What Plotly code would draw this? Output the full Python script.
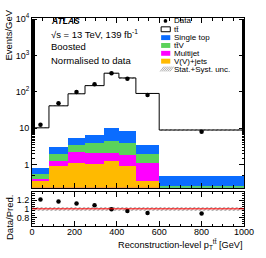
import plotly.graph_objects as go
import numpy as np

# ---- data ----
bin_edges = [0, 80, 170, 250, 340, 410, 490, 600, 1000]
ttbar = [9.4, 38.0, 82.6, 141.0, 315.0, 232.0, 86.5, 8.4]
single_top = [0.24, 1.16, 2.0, 2.6, 5.6, 4.3, 1.6, 0.23]
ttV = [0.16, 0.64, 1.26, 1.97, 2.3, 2.0, 0.82, 0.05]
multijet = [0.04, 0.38, 1.06, 1.03, 0.84, 0.92, 0.73, 0.08]
vjets = [0.35, 0.88, 1.08, 1.0, 1.26, 0.88, 0.35, 0.12]
data = [12.4, 48.0, 99.0, 160.0, 322.0, 228.0, 81.0, 7.9]
rel_unc = [0.04, 0.04, 0.04, 0.04, 0.04, 0.04, 0.04, 0.04]

y_tickvals = [1, 10, 100, 1000, 10000]
y_ticktext = ["1", "10", "10<sup>2</sup>", "10<sup>3</sup>", "10<sup>4</sup>"]
r_tickvals = [0.8, 1.0, 1.2]
r_ticktext = ["0.8", "1", "1.2"]

# ---- derived ----
e = np.array(bin_edges, float)
centers = (e[:-1] + e[1:]) / 2
widths = e[1:] - e[:-1]
c_v = np.array(vjets)
c_m = c_v + np.array(multijet)
c_g = c_m + np.array(ttV)
c_b = c_g + np.array(single_top)
total = c_b + np.array(ttbar)
unc = np.array(rel_unc)
ratio = np.array(data) / total

FONT = "Liberation Sans, Arial, Helvetica, sans-serif"
W, H = 266, 258
L, R, T, B = 32, 14, 14, 32
PW, PH = W - L - R, H - T - B


def px(xp):
    return (xp - L) / PW


def py(yp):
    return (H - B - yp) / PH


BLUE, GREEN, MAG, ORANGE = "#0a6cff", "#5ad25a", "#ff00ff", "#ffba00"

fig = go.Figure()
for cum, col, name in [(c_b, BLUE, "Single top"), (c_g, GREEN, "ttV"),
                       (c_m, MAG, "Multijet"), (c_v, ORANGE, "V(V)+jets")]:
    fig.add_trace(go.Bar(x=centers, y=cum, width=widths, marker=dict(color=col, line=dict(width=0)),
                         name=name, showlegend=False, xaxis="x", yaxis="y"))

# uncertainty band main
fig.add_trace(go.Bar(x=centers, y=total * 2 * unc, base=total * (1 - unc), width=widths,
                     marker=dict(color="rgba(0,0,0,0)", line=dict(width=0),
                                 pattern=dict(shape="/", fgcolor="#444", bgcolor="rgba(0,0,0,0)", size=3, solidity=0.4)),
                     showlegend=False, xaxis="x", yaxis="y"))
# total step line
fig.add_trace(go.Scatter(x=list(e), y=list(total) + [total[-1]], mode="lines",
                         line=dict(color="black", width=1, shape="hv"), showlegend=False,
                         xaxis="x", yaxis="y"))
# data
fig.add_trace(go.Scatter(x=centers, y=data, mode="markers", marker=dict(color="black", size=4.5),
                         showlegend=False, xaxis="x", yaxis="y"))

# ratio band
fig.add_trace(go.Bar(x=centers, y=2 * unc, base=1 - unc, width=widths,
                     marker=dict(color="rgba(0,0,0,0)", line=dict(width=0),
                                 pattern=dict(shape="/", fgcolor="#444", bgcolor="rgba(0,0,0,0)", size=3, solidity=0.4)),
                     showlegend=False, xaxis="x2", yaxis="y2"))
fig.add_trace(go.Scatter(x=centers, y=ratio, mode="markers", marker=dict(color="black", size=4.5),
                         showlegend=False, xaxis="x2", yaxis="y2"))

main_bottom = py(187)
ratio_top = py(191)

axcommon = dict(showline=True, linecolor="black", linewidth=1, mirror="ticks", ticks="inside",
                tickcolor="black", showgrid=False, zeroline=False,
                tickfont=dict(family=FONT, size=9, color="black"))

fig.update_layout(
    width=W, height=H, margin=dict(l=L, r=R, t=T, b=B),
    plot_bgcolor="white", paper_bgcolor="white", barmode="overlay", bargap=0,
    showlegend=False,
    xaxis=dict(domain=[0, 1], anchor="y", range=[0, 1000], dtick=200, ticklen=5,
               showticklabels=False, minor=dict(dtick=50, ticklen=2.5, ticks="inside", tickcolor="black"),
               **axcommon),
    yaxis=dict(domain=[main_bottom, 1], anchor="x", type="log", range=[-0.64, 4.03],
               tickvals=y_tickvals, ticktext=y_ticktext, ticklen=5,
               minor=dict(ticks="inside", ticklen=2.5, tickcolor="black"), **axcommon),
    xaxis2=dict(domain=[0, 1], anchor="y2", range=[0, 1000], dtick=200, ticklen=5, matches="x",
                ticklabelstandoff=-3,
                minor=dict(dtick=50, ticklen=2.5, ticks="inside", tickcolor="black"), **axcommon),
    yaxis2=dict(domain=[0, ratio_top], anchor="x2", range=[0.6, 1.4],
                tickvals=r_tickvals, ticktext=r_ticktext, ticklen=5,
                minor=dict(dtick=0.05, ticklen=2.5, ticks="inside", tickcolor="black"), **axcommon),
)

# reference line at 1
fig.add_shape(type="line", xref="x2 domain", yref="y2", x0=0, x1=1, y0=1, y1=1,
              line=dict(color="red", width=1))

ann = []
def text(x, y, s, size=9, xanchor="left", yanchor="middle", angle=0):
    ann.append(dict(x=x, y=y, xref="paper", yref="paper", text=s, showarrow=False,
                    xanchor=xanchor, yanchor=yanchor, textangle=angle,
                    font=dict(family=FONT, size=size, color="black")))

text(px(49.5), py(17), "<b><i>ATLAS</i></b>", size=8.5)
text(px(49.5), py(30), "√s = 13 TeV, 139 fb<sup>-1</sup>", size=9.5)
text(px(49.5), py(43.5), "Boosted", size=9.5)
text(px(49.5), py(57), "Normalised to data", size=9.5)

text(px(8), py(3), "Events/GeV", size=9.5, xanchor="center", yanchor="top", angle=-90)
text(px(8), py(192), "Data/Pred.", size=9.5, xanchor="center", yanchor="top", angle=-90)
text(1.0, py(236), "Reconstruction-level p<sub>T</sub><sup>tt̄</sup> [GeV]", size=9.2,
     xanchor="right", yanchor="top")

# legend (manual)
leg_y = [17, 25.5, 34, 42, 50, 58, 66]
leg_txt = ["Data", "tt̄", "Single top", "tt̄V", "Multijet", "V(V)+jets", "Stat.+Syst. unc."]
for yy, s in zip(leg_y, leg_txt):
    text(px(177), py(yy), s, size=8)

shapes = []
shapes.append(dict(type="circle", xref="paper", yref="paper", x0=px(168.6), x1=px(172.4),
                   y0=py(18.9), y1=py(15.1), fillcolor="black", line=dict(width=0)))
shapes.append(dict(type="rect", xref="paper", yref="paper", x0=px(166), x1=px(175.5),
                   y0=py(28), y1=py(23), fillcolor="white", line=dict(color="black", width=1)))
for yy, col in zip(leg_y[2:6], [BLUE, GREEN, MAG, ORANGE]):
    shapes.append(dict(type="rect", xref="paper", yref="paper", x0=px(166), x1=px(175.5),
                       y0=py(yy + 2.5), y1=py(yy - 2.5), fillcolor=col, line=dict(width=0)))
for k in range(6):
    x0 = 166 + k * 2
    shapes.append(dict(type="line", xref="paper", yref="paper", x0=px(x0 - 1), x1=px(x0 + 3),
                       y0=py(68.5), y1=py(63.5), line=dict(color="#777", width=0.6)))
for s in shapes:
    fig.add_shape(**s)

fig.update_layout(annotations=ann)
fig.write_html("out.html", config={"displayModeBar": False},
               post_script="document.body.style.margin='0';document.body.style.padding='0';")
